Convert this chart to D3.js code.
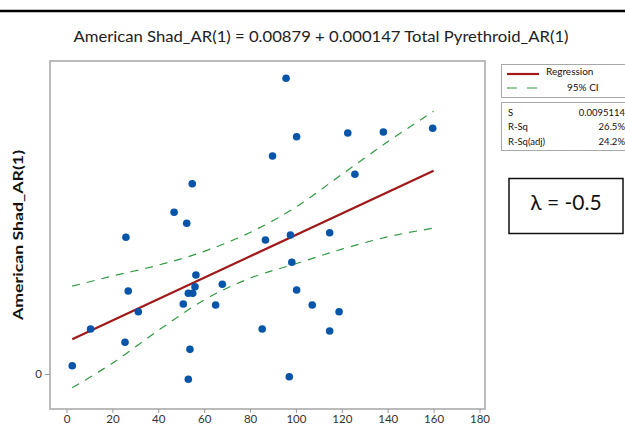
<!DOCTYPE html>
<html>
<head>
<meta charset="utf-8">
<script src="https://cdn.jsdelivr.net/npm/d3@7"></script>
<style>
  body { margin: 0; background: #fff; }
  text { font-family: Lato, "Open Sans", sans-serif; }
</style>
</head>
<body>
<div class="scatterplot"></div>
<script>
// Total Pyrethroid_AR(1) vs American Shad_AR(1)
var xVals = [95.7, 89.8, 54.8, 46.9, 52.4, 100.3, 122.6, 138.1, 159.6, 125.7,
             25.9, 86.7, 97.6, 56.4, 56.0, 53.1, 55.0, 26.9, 67.9, 50.9,
             65.0, 31.3, 10.5, 85.3, 25.5, 53.8, 2.5, 53.1, 98.2, 97.1,
             114.7, 100.3, 107.1, 118.8, 114.7];
var yVals = [0.04075, 0.03004, 0.02622, 0.02228, 0.02077, 0.0327, 0.03321, 0.03335, 0.03386, 0.02752,
             0.01884, 0.01847, 0.01915, 0.01364, 0.01203, 0.01112, 0.01112, 0.01144, 0.01236, 0.00965,
             0.00951, 0.00858, 0.0062, 0.0062, 0.00437, 0.0034, 0.00114, -0.00073, 0.01539, -0.00037,
             0.01947, 0.01157, 0.00951, 0.00858, 0.00593];

var fitX = [2.5, 160];
var fitY = [0.0048, 0.0280];

var ciX = [2.5, 20, 40, 60, 80, 100, 120, 140, 160];
var ciUpper = [0.0121, 0.0135, 0.0150, 0.0169, 0.0195, 0.0230, 0.0275, 0.0320, 0.0362];
var ciLower = [-0.0019, 0.0015, 0.0060, 0.0102, 0.0132, 0.0152, 0.0172, 0.0189, 0.0201];

var xTicks = [0, 20, 40, 60, 80, 100, 120, 140, 160, 180];
var yTicks = [0];

var titleText = "American Shad_AR(1) = 0.00879 + 0.000147 Total Pyrethroid_AR(1)";
var yLabel = "American Shad_AR(1)";
var legendNames = ["Regression", "95% CI"];
var statNames = ["S", "R-Sq", "R-Sq(adj)"];
var statValues = ["0.0095114", "26.5%", "24.2%"];
var lambdaText = "\u03bb = -0.5";

var width = 625, height = 427;
var plot = {left: 50, top: 61, right: 485, bottom: 409};

var svg = d3.select(".scatterplot").append("svg")
    .attr("width", width)
    .attr("height", height);

// black rule at the top
svg.append("line")
    .attr("x1", 0).attr("x2", width)
    .attr("y1", 11).attr("y2", 11)
    .attr("stroke", "#000")
    .attr("stroke-width", 2.5);

var x = d3.scaleLinear()
    .domain([-7.19, 182.4])
    .range([plot.left, plot.right]);
var y = d3.scaleLinear()
    .domain([-0.00482, 0.04313])
    .range([plot.bottom, plot.top]);

svg.append("text")
    .attr("x", 321)
    .attr("y", 42)
    .attr("text-anchor", "middle")
    .attr("font-size", 15)
    .attr("fill", "#222")
    .attr("textLength", 495)
    .attr("lengthAdjust", "spacingAndGlyphs")
    .text(titleText);

// frame
svg.append("rect")
    .attr("x", plot.left).attr("y", plot.top)
    .attr("width", plot.right - plot.left)
    .attr("height", plot.bottom - plot.top)
    .attr("fill", "none")
    .attr("stroke", "#b4b4b4")
    .attr("stroke-width", 1.8);

var xAxis = d3.axisBottom(x).tickValues(xTicks).tickSize(4).tickSizeOuter(0);
var yAxis = d3.axisLeft(y).tickValues(yTicks).tickSize(5).tickSizeOuter(0)
    .tickFormat(d3.format("d"));

var gx = svg.append("g")
    .attr("class", "x axis")
    .attr("transform", "translate(0," + plot.bottom + ")")
    .call(xAxis);
var gy = svg.append("g")
    .attr("class", "y axis")
    .attr("transform", "translate(" + plot.left + ",0)")
    .call(yAxis);

[gx, gy].forEach(function(g) {
  g.select(".domain").remove();
  g.selectAll(".tick line").attr("stroke", "#9a9a9a");
  g.selectAll(".tick text")
    .attr("font-family", "Lato, sans-serif")
    .attr("font-size", 11.5)
    .attr("fill", "#333");
});
gx.selectAll(".tick text").attr("y", 6).attr("dy", "0.72em");

svg.append("text")
    .attr("transform", "translate(23,235) rotate(-90)")
    .attr("text-anchor", "middle")
    .attr("font-size", 14)
    .attr("font-weight", "bold")
    .attr("fill", "#111")
    .attr("textLength", 170)
    .attr("lengthAdjust", "spacingAndGlyphs")
    .text(yLabel);

// confidence band
var ciLine = d3.line()
    .x(function(d) { return x(d[0]); })
    .y(function(d) { return y(d[1]); })
    .curve(d3.curveMonotoneX);

[ciUpper, ciLower].forEach(function(series) {
  svg.append("path")
      .datum(ciX.map(function(v, i) { return [v, series[i]]; }))
      .attr("d", ciLine)
      .attr("fill", "none")
      .attr("stroke", "#2f9a3f")
      .attr("stroke-width", 1.2)
      .attr("stroke-dasharray", "8,7");
});

// regression line
svg.append("line")
    .attr("x1", x(fitX[0])).attr("y1", y(fitY[0]))
    .attr("x2", x(fitX[1])).attr("y2", y(fitY[1]))
    .attr("stroke", "#a01818")
    .attr("stroke-width", 2.2);

svg.selectAll("circle.point")
    .data(xVals.map(function(v, i) { return [v, yVals[i]]; }))
  .enter().append("circle")
    .attr("class", "point")
    .attr("cx", function(d) { return x(d[0]); })
    .attr("cy", function(d) { return y(d[1]); })
    .attr("r", 3.8)
    .attr("fill", "#0755a8");

// legend
svg.append("rect")
    .attr("x", 501.5).attr("y", 64.5)
    .attr("width", 130).attr("height", 33)
    .attr("fill", "#fff")
    .attr("stroke", "#a8a8a8");
svg.append("line")
    .attr("x1", 507).attr("x2", 539).attr("y1", 74).attr("y2", 74)
    .attr("stroke", "#a01818").attr("stroke-width", 2.2);
svg.append("line")
    .attr("x1", 507).attr("x2", 538).attr("y1", 88).attr("y2", 88)
    .attr("stroke", "#2f9a3f").attr("stroke-width", 1.2)
    .attr("stroke-dasharray", "10,10");
svg.append("text")
    .attr("x", 546).attr("y", 75)
    .attr("font-size", 10).attr("fill", "#111")
    .text(legendNames[0]);
svg.append("text")
    .attr("x", 567).attr("y", 91)
    .attr("font-size", 10).attr("fill", "#111")
    .text(legendNames[1]);

// stats box
svg.append("rect")
    .attr("x", 501.5).attr("y", 102.5)
    .attr("width", 130).attr("height", 48)
    .attr("fill", "#fff")
    .attr("stroke", "#a8a8a8");
statNames.forEach(function(s, i) {
  svg.append("text")
      .attr("x", 508).attr("y", 115.5 + i * 14.5)
      .attr("font-size", 9.5).attr("fill", "#111")
      .text(s);
  svg.append("text")
      .attr("x", 625).attr("y", 115.5 + i * 14.5)
      .attr("text-anchor", "end")
      .attr("font-size", 9.5).attr("fill", "#111")
      .text(statValues[i]);
});

// lambda box
svg.append("rect")
    .attr("x", 509).attr("y", 178.5)
    .attr("width", 114).attr("height", 55)
    .attr("fill", "#fff")
    .attr("stroke", "#111")
    .attr("stroke-width", 1.5);
svg.append("text")
    .attr("x", 566).attr("y", 210)
    .attr("text-anchor", "middle")
    .attr("font-size", 21)
    .attr("fill", "#111")
    .text(lambdaText);
</script>
</body>
</html>
